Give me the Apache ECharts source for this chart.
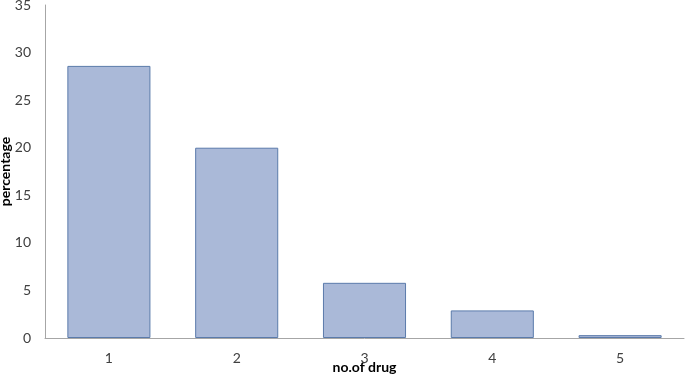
<!DOCTYPE html>
<html>
<head>
<meta charset="utf-8">
<script src="https://cdn.jsdelivr.net/npm/echarts@6/dist/echarts.min.js"></script>
<style>html,body{margin:0;padding:0;background:#fff}#c{width:685px;height:375px}</style>
</head>
<body>
<div id="c"></div>
<script>
var categories = ['1', '2', '3', '4', '5'];
var values = [28.6, 20.0, 5.8, 2.9, 0.3];
var yTicks = [0, 5, 10, 15, 20, 25, 30, 35];

var chart = echarts.init(document.getElementById('c'));
chart.setOption({
  animation: false,
  textStyle: { fontFamily: 'Lato, "Open Sans", sans-serif' },
  grid: { left: 45, right: 1, top: 5, bottom: 37, containLabel: false, outerBoundsMode: 'none' },
  xAxis: {
    type: 'category',
    data: categories,
    name: 'no.of drug',
    nameLocation: 'middle',
    nameGap: 22,
    nameMoveOverlap: false,
    nameTextStyle: { fontWeight: 'bold', fontSize: 14, color: '#000' },
    axisLine: { lineStyle: { color: '#a6a6a6', width: 1 } },
    axisTick: { show: false },
    axisLabel: { color: '#404040', fontSize: 14, margin: 13 }
  },
  yAxis: {
    type: 'value',
    min: yTicks[0],
    max: yTicks[yTicks.length - 1],
    interval: 5,
    name: 'percentage',
    nameLocation: 'middle',
    nameGap: 33,
    nameMoveOverlap: false,
    nameTextStyle: { fontWeight: 'bold', fontSize: 14, color: '#000' },
    axisLine: { show: true, lineStyle: { color: '#a6a6a6', width: 1 } },
    axisTick: { show: false },
    splitLine: { show: false },
    axisLabel: { color: '#404040', fontSize: 14, margin: 14 }
  },
  series: [{
    type: 'bar',
    data: values,
    barWidth: '65%',
    itemStyle: { color: '#aab9d8', borderColor: '#5b7bab', borderWidth: 1 }
  }]
});
</script>
</body>
</html>
